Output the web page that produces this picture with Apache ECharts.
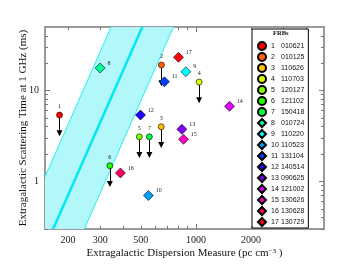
<!DOCTYPE html>
<html>
<head>
<meta charset="utf-8">
<script src="https://cdn.jsdelivr.net/npm/echarts@6/dist/echarts.min.js"></script>
<style>
html,body{margin:0;padding:0;background:#fff;}
#c{width:360px;height:270px;}
</style>
</head>
<body>
<div id="c"></div>
<script>
// ---- data ----
const frbNumbers = [1,2,3,4,5,6,7,8,9,10,11,12,13,14,15,16,17];
const frbIds = ['010621','010125','110626','110703','120127','121102','150418','010724','110220','110523','131104','140514','090625','121002','130626','130628','130729'];
const dmValues = [180, 648, 646, 1041, 491, 339, 557, 300, 881, 550, 673, 498, 838, 1525, 855, 387, 803];
const tauValues = [5.38, 19.1, 4.0, 12.4, 3.1, 1.49, 3.1, 17.7, 16.1, 0.70, 12.5, 5.38, 3.75, 6.71, 2.91, 1.24, 23.2];
const isUpperLimit = [true,true,true,true,true,true,true,false,false,false,false,false,false,false,false,false,false];
// band (center line points, extended past plot edges) and half width (multiplicative in DM)
const bandDM = [152, 593];
const bandTau = [0.2, 100];
const bandHalfFactor = 1.48;
// axes
const xRange = [150, 5000];
const yRange = [0.3, 50];
const xLabelValues = [200, 300, 500, 1000, 2000];
const xMajorTicks = [1000];
const xMinorTicks = [200,300,400,500,600,700,800,900,2000,3000,4000];
const yLabelValues = [1, 10];
const yMajorTicks = [1, 10];
const yMinorTicks = [0.3,0.4,0.5,0.6,0.7,0.8,0.9,2,3,4,5,6,7,8,9,20,30,40];

// ---- styles ----
const colors = ['#ff0000','#ff6000','#ffbf00','#dfff00','#80ff00','#20ff00','#00ff40','#00ff9f','#00ffff','#009fff','#0040ff','#2000ff','#8000ff','#df00ff','#ff00bf','#ff0060','#ff0010'];
const serif = 'Liberation Serif';
const L10 = Math.log10;
const arrowDex = 0.2;

function axis(dim, pos, ticks, len, labels, extra) {
  const range = dim === 'x' ? xRange : yRange;
  const a = {
    type: 'value', position: pos, min: L10(range[0]), max: L10(range[1]),
    axisLine: {show: true, onZero: false, lineStyle: {color: '#9a9a9a', width: 2}},
    axisTick: {show: true, inside: true, length: len, customValues: ticks.map(L10), lineStyle: {color: '#777', width: 1}},
    axisLabel: labels ? {show: true, customValues: labels.map(L10), formatter: v => String(Math.round(Math.pow(10, v))),
      fontFamily: serif, fontSize: 10, color: '#222', margin: 6} : {show: false},
    splitLine: {show: false}
  };
  return Object.assign(a, extra || {});
}

const xAxes = [
  axis('x', 'bottom', xMajorTicks, 5, xLabelValues, {
    name: 'Extragalactic Dispersion Measure (pc cm{sup|\u22123} )', nameLocation: 'middle', nameGap: 19, nameMoveOverlap: false,
    nameTextStyle: {fontFamily: serif, fontSize: 11, color: '#111', verticalAlign: 'top', rich: {sup: {fontFamily: serif, fontSize: 7, verticalAlign: 'top', color: '#111'}}}
  }),
  axis('x', 'bottom', xMinorTicks, 3, null),
  axis('x', 'top', xMajorTicks, 5, null),
  axis('x', 'top', xMinorTicks, 3, null)
];
const yAxes = [
  axis('y', 'left', yMajorTicks, 5, yLabelValues, {
    name: 'Extragalactic Scattering Time at 1 GHz (ms)', nameLocation: 'middle', nameGap: 16, nameMoveOverlap: false,
    nameTextStyle: {fontFamily: serif, fontSize: 11, color: '#111'}
  }),
  axis('y', 'left', yMinorTicks, 3, null),
  axis('y', 'right', yMajorTicks, 5, null),
  axis('y', 'right', yMinorTicks, 3, null)
];

const series = [];
series.push({
  type: 'custom', clip: true, silent: true, z: 1, data: [[0, 0]],
  renderItem: function (params, api) {
    const f = L10(bandHalfFactor);
    const Lp = bandDM.map((d, k) => api.coord([L10(d) - f, L10(bandTau[k])]));
    const Rp = bandDM.map((d, k) => api.coord([L10(d) + f, L10(bandTau[k])]));
    const Cp = bandDM.map((d, k) => api.coord([L10(d), L10(bandTau[k])]));
    return {type: 'group', children: [
      {type: 'polygon', shape: {points: [Lp[0], Lp[1], Rp[1], Rp[0]]}, style: {fill: '#b2f7f9', stroke: null}},
      {type: 'polyline', shape: {points: Lp}, style: {stroke: '#22f0f8', lineWidth: 1, fill: null}},
      {type: 'polyline', shape: {points: Rp}, style: {stroke: '#22f0f8', lineWidth: 1, fill: null}},
      {type: 'polyline', shape: {points: Cp}, style: {stroke: '#00e8f2', lineWidth: 2.5, fill: null}}
    ]};
  }
});

const legendNames = [];
frbNumbers.forEach((n, i) => {
  const name = n + ' ' + frbIds[i];
  legendNames.push(name);
  const up = isUpperLimit[i];
  const x = L10(dmValues[i]), y = L10(tauValues[i]);
  const s = {
    type: 'scatter', name: name, z: 3,
    symbol: up ? 'circle' : 'diamond', symbolSize: up ? 6 : 10,
    itemStyle: {color: colors[i], borderColor: '#000', borderWidth: 0.6, opacity: 1},
    label: up ? {show: true, formatter: String(n), position: 'top', distance: 2, fontFamily: serif, fontSize: 6, color: '#222'}
              : {show: true, formatter: String(n), position: 'right', distance: 2, offset: [0, -5], fontFamily: serif, fontSize: 6, color: '#222'},
    data: [[x, y]]
  };
  if (up) {
    s.markLine = {
      silent: true, z: 2, symbol: ['none', 'triangle'], symbolSize: [6, 6], animation: false,
      lineStyle: {color: '#000', width: 1, type: 'solid'}, label: {show: false},
      itemStyle: {color: '#000'},
      data: [[{coord: [x, y]}, {coord: [x, y - arrowDex]}]]
    };
  }
  series.push(s);
});

const chart = echarts.init(document.getElementById('c'), null, {renderer: 'canvas'});
chart.setOption({
  animation: false,
  backgroundColor: '#fff',
  grid: {left: 45, right: 36, top: 27, bottom: 41, containLabel: false},
  xAxis: xAxes,
  yAxis: yAxes,
  title: {text: 'FRBs', left: 273, top: 30, padding: 0,
    textStyle: {fontFamily: serif, fontSize: 6.5, fontWeight: 'bold', color: '#111'}},
  legend: {
    data: legendNames, orient: 'vertical', left: 252, top: 29, padding: [12, 4, 1, 5],
    itemWidth: 8, itemHeight: 8, itemGap: 1.0, selectedMode: false,
    borderColor: '#000', borderWidth: 1, backgroundColor: '#fff',
    formatter: function (name) { const p = name.split(' '); return '{n|' + p[0] + '}{id|' + p[1] + '}'; },
    textStyle: {fontFamily: 'Liberation Sans', fontSize: 7, color: '#111', lineHeight: 8,
      rich: {n: {width: 8.5, fontFamily: 'Liberation Sans', fontSize: 7, lineHeight: 8},
             id: {fontFamily: 'Liberation Sans', fontSize: 7, lineHeight: 8, padding: [0, 0, 0, 1.5]}}}
  },
  series: series
});
</script>
</body>
</html>
